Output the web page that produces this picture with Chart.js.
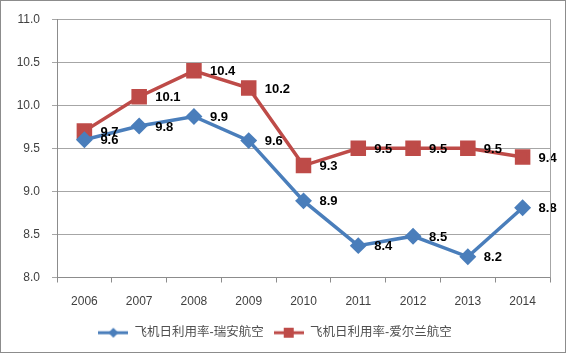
<!DOCTYPE html>
<html>
<head>
<meta charset="utf-8">
<script src="https://cdn.jsdelivr.net/npm/chart.js@4/dist/chart.umd.min.js"></script>
<style>
  html, body { margin: 0; padding: 0; background: #fff; }
  #wrap { width: 566px; height: 353px; }
</style>
</head>
<body>
<div id="wrap"><canvas id="chart" width="566" height="353"></canvas></div>
<script>
// data
const years = ["2006", "2007", "2008", "2009", "2010", "2011", "2012", "2013", "2014"];
const ryanair = [9.6, 9.76, 9.87, 9.59, 8.89, 8.37, 8.48, 8.24, 8.81];
const aerLingus = [9.7, 10.1, 10.4, 10.2, 9.3, 9.5, 9.5, 9.5, 9.4];
const seriesNames = ["飞机日利用率-瑞安航空", "飞机日利用率-爱尔兰航空"];
const yTicks = [8.0, 8.5, 9.0, 9.5, 10.0, 10.5, 11.0];

const BLUE = "#4a7ebb";
const RED = "#be4b48";
const FONT = "'Liberation Sans', 'Noto Sans CJK SC', sans-serif";

// small legend swatch: line with the marker in the middle
function swatch(color, shape) {
  const c = document.createElement("canvas");
  c.width = 30; c.height = 14;
  const g = c.getContext("2d");
  g.strokeStyle = color; g.lineWidth = 3;
  g.beginPath(); g.moveTo(0, 7); g.lineTo(30, 7); g.stroke();
  g.fillStyle = color;
  g.beginPath();
  if (shape === "diamond") {
    g.moveTo(15, 2); g.lineTo(20, 7); g.lineTo(15, 12); g.lineTo(10, 7);
  } else {
    g.rect(10, 2, 10, 10);
  }
  g.closePath(); g.fill();
  return c;
}

const frame = {
  id: "frame",
  beforeDraw(chart) {
    const ctx = chart.ctx;
    ctx.save();
    ctx.fillStyle = "#fff";
    ctx.fillRect(0, 0, chart.width, chart.height);
    ctx.restore();
  },
  afterDraw(chart) {
    const ctx = chart.ctx, a = chart.chartArea;
    ctx.save();
    ctx.strokeStyle = "#8c8c8c";
    ctx.lineWidth = 1;
    ctx.strokeRect(0.5, 0.5, chart.width - 1, chart.height - 1);
    ctx.strokeStyle = "#a6a6a6";
    ctx.beginPath();
    ctx.moveTo(Math.round(a.right) + 0.5, a.top);
    ctx.lineTo(Math.round(a.right) + 0.5, a.bottom);
    ctx.stroke();
    ctx.restore();
  }
};

const valueLabels = {
  id: "valueLabels",
  afterDatasetsDraw(chart) {
    const ctx = chart.ctx;
    ctx.save();
    ctx.font = "bold 13px " + FONT;
    ctx.fillStyle = "#000";
    ctx.textAlign = "left";
    ctx.textBaseline = "middle";
    chart.data.datasets.forEach((ds, i) => {
      chart.getDatasetMeta(i).data.forEach((pt, j) => {
        ctx.fillText(ds.data[j].toFixed(1), pt.x + 16, pt.y + 1);
      });
    });
    ctx.restore();
  }
};

new Chart(document.getElementById("chart"), {
  type: "line",
  data: {
    labels: years,
    datasets: [
      {
        label: seriesNames[0], data: ryanair,
        borderColor: BLUE, backgroundColor: BLUE, borderWidth: 3.5,
        pointStyle: "rectRot", pointRadius: 6, pointHoverRadius: 6,
        tension: 0
      },
      {
        label: seriesNames[1], data: aerLingus,
        borderColor: RED, backgroundColor: RED, borderWidth: 3.5,
        pointStyle: "rect", pointRadius: 8.5, pointHoverRadius: 8.5,
        tension: 0
      }
    ]
  },
  options: {
    responsive: false,
    animation: false,
    layout: { padding: { left: 0, right: 16, top: 15, bottom: 4 } },
    plugins: {
      tooltip: { enabled: false },
      legend: {
        position: "bottom",
        labels: {
          color: "#505050",
          font: { family: FONT, size: 12.5 },
          usePointStyle: true,
          pointStyleWidth: 30,
          boxHeight: 14,
          padding: 10,
          generateLabels(chart) {
            return chart.data.datasets.map((ds, i) => ({
              text: ds.label,
              pointStyle: swatch(ds.borderColor, i === 0 ? "diamond" : "square"),
              fillStyle: ds.borderColor,
              strokeStyle: ds.borderColor,
              lineWidth: 0,
              datasetIndex: i,
              hidden: false,
              fontColor: "#505050"
            }));
          }
        }
      }
    },
    scales: {
      x: {
        offset: true,
        grid: { display: true, drawOnChartArea: false, offset: true, tickLength: 5, color: "#8c8c8c" },
        border: { color: "#8c8c8c" },
        ticks: { color: "#404040", font: { family: FONT, size: 12 }, padding: 12, maxRotation: 0 },
        afterFit(s) { s.height = 39; }
      },
      y: {
        min: 8, max: 11,
        afterBuildTicks(s) { s.ticks = yTicks.map(v => ({ value: v })); },
        grid: { color: "#a6a6a6", tickLength: 5 },
        border: { color: "#8c8c8c" },
        ticks: {
          color: "#404040", font: { family: FONT, size: 12 }, padding: 12,
          callback: v => Number(v).toFixed(1)
        },
        afterFit(s) { s.width = 57; }
      }
    }
  },
  plugins: [frame, valueLabels]
});
</script>
</body>
</html>
